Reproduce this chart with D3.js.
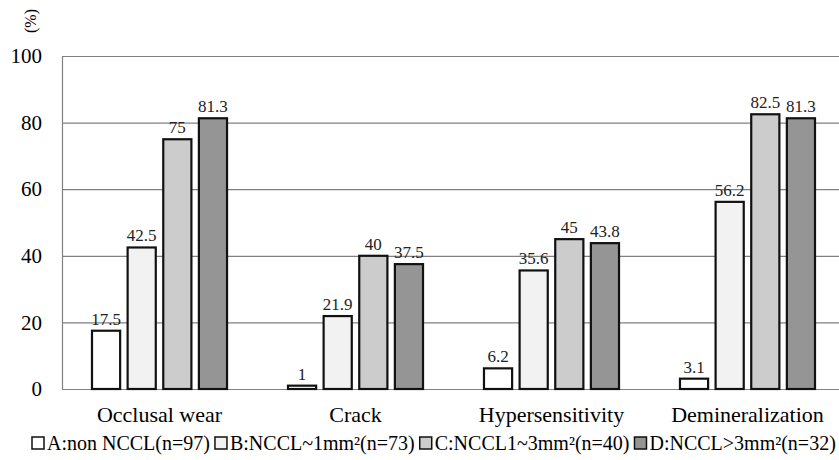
<!DOCTYPE html>
<html><head><meta charset="utf-8">
<script src="https://cdn.jsdelivr.net/npm/d3@7"></script>
<style>body{margin:0;background:#fff}svg{display:block}</style>
</head><body><svg id="c" width="839" height="460" font-family="Liberation Serif, Times New Roman, serif"></svg>
<script>
const categories = ["Occlusal wear", "Crack", "Hypersensitivity", "Demineralization"];
const seriesNames = ["A:non NCCL(n=97)", "B:NCCL~1mm²(n=73)", "C:NCCL1~3mm²(n=40)", "D:NCCL>3mm²(n=32)"];
const seriesA = [17.5, 1, 6.2, 3.1];
const seriesB = [42.5, 21.9, 35.6, 56.2];
const seriesC = [75, 40, 45, 82.5];
const seriesD = [81.3, 37.5, 43.8, 81.3];
const yTicks = [0, 20, 40, 60, 80, 100];
const colors = ["#ffffff", "#f2f2f2", "#cccccc", "#959595"];

const seriesVals = [seriesA, seriesB, seriesC, seriesD];
const svg = d3.select("#c");
const FF = "Liberation Serif, Times New Roman, serif";

const y = d3.scaleLinear().domain([0, 100]).range([389, 56]);
const x0 = d3.scaleBand().domain(categories).range([61.5, 845.5]).paddingInner(0.311).paddingOuter(0.1556);
const x1 = d3.scaleBand().domain(seriesNames).range([0, x0.bandwidth()]).paddingInner(0.21).paddingOuter(0);

// gridlines
svg.append("g").selectAll("line").data(yTicks).join("line")
  .attr("x1", 62).attr("x2", 846)
  .attr("y1", d => y(d) + 0.5).attr("y2", d => y(d) + 0.5)
  .attr("stroke", "#808080").attr("stroke-width", 1.2);

// y axis line
svg.append("line").attr("x1", 62.5).attr("x2", 62.5).attr("y1", y(100)).attr("y2", y(0) + 0.5)
  .attr("stroke", "#808080").attr("stroke-width", 1.2);

// y tick labels
const yAxis = d3.axisLeft(y).tickValues(yTicks).tickSize(0).tickPadding(20);
const ya = svg.append("g").attr("transform", "translate(62,0)").call(yAxis);
ya.select(".domain").remove();
ya.attr("font-family", FF).attr("font-size", 21);
ya.selectAll("text").attr("font-family", FF).attr("font-size", 21).attr("fill", "#000");

// bars
const groups = svg.append("g").selectAll("g").data(categories).join("g")
  .attr("transform", d => `translate(${x0(d)},0)`);
groups.each(function(cat, ci) {
  const g = d3.select(this);
  const data = seriesNames.map((s, si) => ({s, si, v: seriesVals[si][ci]}));
  g.selectAll("rect").data(data).join("rect")
    .attr("x", d => x1(d.s)).attr("width", x1.bandwidth())
    .attr("y", d => y(d.v)).attr("height", d => y(0) - y(d.v))
    .attr("fill", d => colors[d.si]).attr("stroke", "#111").attr("stroke-width", 2.2);
  g.selectAll("text").data(data).join("text")
    .attr("x", d => x1(d.s) + x1.bandwidth() / 2).attr("y", d => y(d.v) - 6)
    .attr("text-anchor", "middle").attr("font-family", FF).attr("font-size", 17)
    .attr("fill", "#222").text(d => d.v);
});

// category labels
svg.append("g").selectAll("text").data(categories).join("text")
  .attr("x", d => x0(d) + x0.bandwidth() / 2).attr("y", 422)
  .attr("text-anchor", "middle").attr("font-family", FF).attr("font-size", 22)
  .attr("fill", "#000").text(d => d);

// (%) label
svg.append("text").attr("transform", "translate(36,21) rotate(-90)")
  .attr("text-anchor", "middle").attr("font-family", FF).attr("font-size", 16).text("(%)");

// legend
const leg = svg.append("g");
let lx = 31;
seriesNames.forEach((s, i) => {
  leg.append("rect").attr("x", lx + 1).attr("y", 437).attr("width", 12).attr("height", 12)
    .attr("fill", colors[i]).attr("stroke", "#111").attr("stroke-width", 1.5);
  const t = leg.append("text").attr("x", lx + 16).attr("y", 450)
    .attr("font-family", FF).attr("font-size", 20).attr("fill", "#000").text(s);
  lx += 16 + t.node().getComputedTextLength() + 4;
});
</script></body></html>
